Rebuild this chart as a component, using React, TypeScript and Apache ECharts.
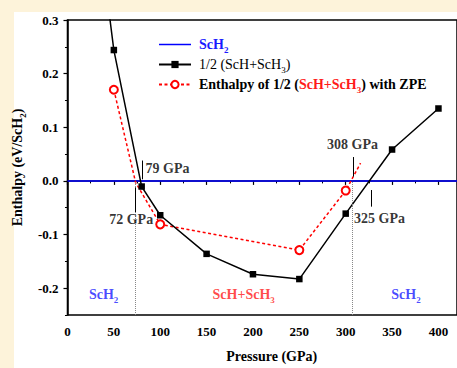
import React, { useEffect, useRef } from 'react';
import * as echarts from 'echarts';

const SERIF = "'Liberation Serif', 'Times New Roman', serif";

// Black curve: 1/2 (ScH + ScH3) relative to ScH2
const mixPressure = [40, 50, 80, 100, 150, 200, 250, 300, 350, 400];
const mixEnthalpy = [0.38, 0.244, -0.0105, -0.064, -0.136, -0.174, -0.183, -0.061, 0.0585, 0.135];
const mixHiddenMarker = [true, false, false, false, false, false, false, false, false, false];

// Red curve: with ZPE
const zpePressure = [50, 73.5, 100, 250, 300, 316];
const zpeEnthalpy = [0.17, -0.003, -0.081, -0.129, -0.018, 0.033];
const zpeHiddenMarker = [false, true, false, false, false, true];

// Reference ScH2 line
const refPressure = [0, 420];
const refEnthalpy = [0, 0];

// Transition guides
const guidePressure = [73.4, 307.5];
const guideFrom = [-0.25, -0.25];
const guideTo = [0, 0];

// Arrows
const arrowPressure = [81, 73.4, 308, 328];
const arrowFrom = [0.038, -0.058, 0.0445, -0.048];
const arrowTo = [0.003, -0.012, 0.008, -0.017];

// Annotation texts
const noteTexts = ['79 GPa', '72 GPa', '308 GPa', '325 GPa'];
const noteX = [107.8, 68.7, 307.3, 336.5];
const noteY = [0.024, -0.072, 0.0676, -0.07];

const phaseTexts = ['ScH2', 'ScH+ScH3', 'ScH2'];
const phaseColors = ['blue', 'red', 'blue'];
const phaseX = [39, 190, 365];
const phaseY = [-0.212, -0.212, -0.212];

const yTicks = [-0.2, -0.1, 0, 0.1, 0.2, 0.3];

const richSet = (p: string, size: number, weight: string, color: string) => ({
  [p]: { fontFamily: SERIF, fontSize: size, fontWeight: weight, color, lineHeight: 14 },
  [p + 'S']: { fontFamily: SERIF, fontSize: 9, fontWeight: weight, color, lineHeight: 9, padding: [10, 0, 0, 0] },
});

const richify = (text: string, st: string) =>
  text
    .split(/(?<=ScH)(\d)/)
    .map((part, i) => (i % 2 ? `{${st}S|${part}}` : part ? `{${st}|${part}}` : ''))
    .join('');

const rich = {
  ...richSet('k', 14, 'bold', '#000'),
  ...richSet('r', 14, 'normal', '#000'),
  ...richSet('b', 14, 'bold', '#1a1aff'),
  ...richSet('red', 14, 'bold', '#ff1a1a'),
};

const legendNames = ['ScH2', '1/2 (ScH+ScH3)', 'ZPE'];
const legendFormat = (name: string) => {
  if (name === 'ScH2') return richify('ScH2', 'b');
  if (name === '1/2 (ScH+ScH3)') return richify(name, 'r');
  return '{k|Enthalpy of 1/2 (}' + richify('ScH+ScH3', 'red') + '{k|) with ZPE}';
};

export default function App() {
  const ref = useRef<HTMLDivElement>(null);
  useEffect(() => {
    if (!ref.current) return;
    const chart = echarts.init(ref.current, null, { renderer: 'svg' });

    const labelData = [
      ...noteTexts.map((t, i) => ({ value: [noteX[i], noteY[i]], name: richify(t, 'k') })),
      ...phaseTexts.map((t, i) => ({
        value: [phaseX[i], phaseY[i]],
        name: richify(t, phaseColors[i] === 'red' ? 'red' : 'b'),
      })),
    ];

    const option: any = {
      animation: false,
      backgroundColor: '#fdf3da',
      graphic: [
        {
          type: 'rect',
          z: -10,
          silent: true,
          shape: { x: 14, y: 12, width: 443, height: 356 },
          style: { fill: '#ffffff' },
        },
      ],
      grid: {
        left: 62,
        top: 20,
        right: -8,
        bottom: 48,
        show: true,
        borderColor: '#000',
        borderWidth: 1.5,
        backgroundColor: 'transparent',
      },
      legend: {
        data: [
          { name: legendNames[0], icon: 'path://M0 0 L32 0 L32 1.5 L0 1.5 Z' },
          legendNames[1],
          legendNames[2],
        ],
        left: 158,
        top: 35,
        orient: 'vertical',
        padding: 0,
        itemWidth: 32,
        itemHeight: 9,
        itemGap: 1,
        selectedMode: false,
        formatter: legendFormat,
        textStyle: { fontFamily: SERIF, fontSize: 14, padding: [0, 0, 0, 3], rich },
      },
      xAxis: {
        type: 'value',
        min: 0,
        max: 420,
        interval: 50,
        axisLine: { lineStyle: { color: '#000', width: 1.5 } },
        axisTick: { length: 4, lineStyle: { color: '#000', width: 1.2 } },
        minorTick: { show: true, splitNumber: 2, length: 2.5, lineStyle: { color: '#000', width: 1 } },
        splitLine: { show: false },
        minorSplitLine: { show: false },
        axisLabel: { fontFamily: SERIF, fontSize: 13, fontWeight: 'bold', color: '#000', margin: 10 },
        name: 'Pressure (GPa)',
        nameLocation: 'middle',
        nameGap: 34,
        nameTextStyle: {
          fontFamily: SERIF,
          fontSize: 14,
          fontWeight: 'bold',
          color: '#000',
          padding: [0, 0, 0, 19],
        },
      },
      yAxis: [
        {
          type: 'value',
          min: -0.25,
          max: 0.3,
          axisLine: { show: true, lineStyle: { color: '#000', width: 1.5 } },
          axisTick: { show: true, length: 4, customValues: yTicks, lineStyle: { color: '#000', width: 1.2 } },
          splitLine: { show: false },
          axisLabel: {
            customValues: yTicks,
            fontFamily: SERIF,
            fontSize: 13,
            fontWeight: 'bold',
            color: '#000',
            margin: 9,
            formatter: (v: number) => (Math.abs(v) < 1e-9 ? '0.0' : v.toFixed(1)),
          },
          name: richify('Enthalpy (eV/ScH2)', 'k'),
          nameLocation: 'middle',
          nameGap: 28,
          nameTextStyle: { rich },
        },
        {
          type: 'value',
          min: -0.25,
          max: 0.3,
          interval: 0.05,
          position: 'left',
          axisLine: { show: false },
          axisTick: { show: true, length: 2.5, lineStyle: { color: '#000', width: 1 } },
          axisLabel: { show: false },
          splitLine: { show: false },
        },
      ],
      series: [
        {
          name: 'ScH2',
          type: 'line',
          data: refPressure.map((p, i) => [p, refEnthalpy[i]]),
          symbol: 'none',
          color: '#0000ff',
          lineStyle: { color: '#0000ff', width: 1.5 },
          silent: true,
          z: 2,
          markLine: {
            silent: true,
            symbol: ['none', 'none'],
            label: { show: false },
            lineStyle: { color: '#888', width: 1, type: 'dotted' },
            data: guidePressure.map((p, i) => [{ coord: [p, guideFrom[i]] }, { coord: [p, guideTo[i]] }]),
          },
        },
        {
          name: '1/2 (ScH+ScH3)',
          type: 'line',
          data: mixPressure.map((p, i) =>
            mixHiddenMarker[i] ? { value: [p, mixEnthalpy[i]], symbol: 'none' } : [p, mixEnthalpy[i]]
          ),
          symbol: 'rect',
          symbolSize: 6.5,
          color: '#000',
          itemStyle: { color: '#000' },
          lineStyle: { color: '#000', width: 1.5 },
          clip: true,
          silent: true,
          z: 4,
        },
        {
          name: 'ZPE',
          type: 'line',
          data: zpePressure.map((p, i) =>
            zpeHiddenMarker[i] ? { value: [p, zpeEnthalpy[i]], symbol: 'none' } : [p, zpeEnthalpy[i]]
          ),
          symbol: 'emptyCircle',
          symbolSize: 8,
          color: '#ff0000',
          itemStyle: { color: '#ff0000', borderColor: '#ff0000', borderWidth: 1.5 },
          lineStyle: { color: '#ff0000', width: 1.5, type: [3, 2.5] },
          clip: true,
          silent: true,
          z: 3,
        },
        {
          name: 'labels',
          type: 'scatter',
          data: labelData,
          symbolSize: 1,
          itemStyle: { color: 'transparent' },
          silent: true,
          z: 5,
          label: {
            show: true,
            position: 'inside',
            formatter: (p: any) => p.name,
            rich,
          },
          markLine: {
            silent: true,
            symbol: ['none', 'arrow'],
            symbolSize: [0, 7],
            label: { show: false },
            lineStyle: { color: '#000', width: 1, type: 'solid' },
            data: arrowPressure.map((p, i) => [{ coord: [p, arrowFrom[i]] }, { coord: [p, arrowTo[i]] }]),
          },
        },
      ],
    };
    chart.setOption(option);
    return () => chart.dispose();
  }, []);

  return (
    <div
      ref={ref}
      style={{ position: 'absolute', left: 0, top: 0, width: 457, height: 368 }}
    />
  );
}
